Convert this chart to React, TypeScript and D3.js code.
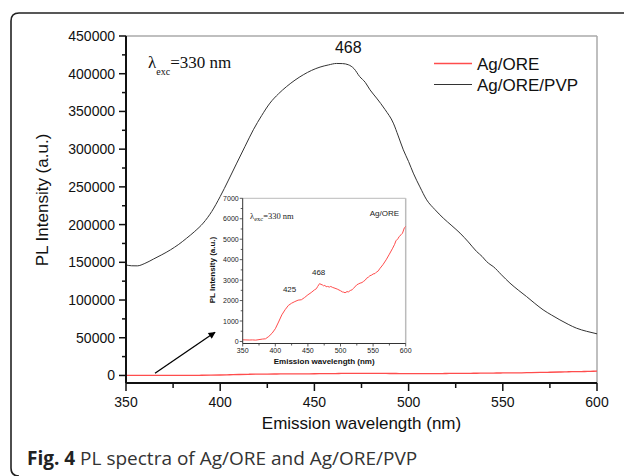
import React from "react";
import * as d3 from "d3";

// Ag/ORE/PVP (black) – wavelength (nm), intensity (a.u.)
const pvpWavelength = [350, 353, 356, 360, 364.5, 369, 373.6, 378, 382.2, 386.5, 391, 395.5, 400, 404.4, 408.8, 413.2, 417.6, 422, 426.4, 431, 435.3, 439.7, 444.1, 448.5, 453, 457.4, 461.8, 465, 468, 471, 474, 477, 479.5, 483, 487.5, 491.9, 494.5, 497.2, 500, 502.5, 506, 509.6, 514, 518.4, 523, 527.3, 531.7, 536.1, 539, 541.4, 543.2, 544.9, 549.3, 553.8, 558.2, 562.6, 567, 571.4, 575.8, 580.3, 584.7, 589.1, 594.5, 600];
const pvpIntensity = [146500, 145400, 145300, 148500, 154200, 160000, 166500, 173800, 182000, 191000, 202000, 217300, 237200, 259000, 281500, 303800, 325700, 344500, 361000, 373500, 383100, 391500, 398600, 404400, 408800, 411600, 413600, 413400, 411900, 406800, 396300, 388500, 378700, 367700, 352500, 334500, 317500, 299100, 283500, 268200, 250000, 232800, 219800, 208600, 198400, 188700, 177000, 164300, 157800, 151000, 147300, 144400, 133400, 122400, 113200, 104600, 95500, 87000, 80200, 73700, 67800, 62700, 58500, 55200];

// Ag/ORE (red) – wavelength (nm), intensity (a.u.)
const oreWavelength = [350, 355, 360, 365, 370, 375, 380, 385, 390, 395, 400, 405, 410, 415, 420, 425, 430, 435, 440, 445, 450, 455, 460, 463, 465, 468, 470, 472, 474, 476, 478, 480, 483, 485, 488, 490, 495, 500, 503, 505, 507, 510, 512, 515, 518, 520, 525, 528, 530, 533, 535, 538, 540, 543, 545, 548, 550, 553, 555, 558, 560, 565, 570, 575, 580, 583, 585, 588, 590, 593, 595, 598, 600];
const oreIntensity = [80, 75, 70, 75, 65, 90, 115, 130, 245, 400, 620, 950, 1300, 1550, 1760, 1870, 1950, 2020, 2040, 2150, 2280, 2390, 2520, 2580, 2690, 2830, 2790, 2770, 2720, 2740, 2680, 2690, 2660, 2690, 2640, 2620, 2560, 2480, 2420, 2410, 2380, 2440, 2420, 2490, 2530, 2600, 2770, 2820, 2850, 2880, 2930, 3000, 3090, 3150, 3210, 3250, 3300, 3320, 3390, 3450, 3550, 3750, 3990, 4270, 4560, 4750, 4920, 5020, 5130, 5220, 5290, 5560, 5620];

const xTicks = [350, 400, 450, 500, 550, 600];
const yTicks = [0, 50000, 100000, 150000, 200000, 250000, 300000, 350000, 400000, 450000];
const insetXTicks = [350, 400, 450, 500, 550, 600];
const insetYTicks = [0, 1000, 2000, 3000, 4000, 5000, 6000, 7000];
const legendLabels = ["Ag/ORE", "Ag/ORE/PVP"];
const peakLabels = [425, 468];

const SANS = "'Liberation Sans', Arial, sans-serif";
const SERIF = "'Liberation Serif', 'Times New Roman', serif";
const RED = "#ff4d4d";

export default function App() {
  const x = d3.scaleLinear().domain([350, 600]).range([126, 597]);
  const y = d3.scaleLinear().domain([-10000, 450000]).range([383, 36]);
  const ix = d3.scaleLinear().domain([350, 600]).range([242.7, 405.7]);
  const iy = d3.scaleLinear().domain([-100, 7000]).range([343.5, 198.3]);

  const pvpData = pvpWavelength.map((w, i) => [w, pvpIntensity[i]] as [number, number]);
  const oreData = oreWavelength.map((w, i) => [w, oreIntensity[i]] as [number, number]);

  const mainLine = d3.line<[number, number]>().x((d) => x(d[0])).y((d) => y(d[1])).curve(d3.curveMonotoneX);
  const insetLine = d3.line<[number, number]>().x((d) => ix(d[0])).y((d) => iy(d[1]));

  const xMinor = d3.range(375, 600, 50);
  const yMinor = d3.range(25000, 450000, 50000);
  const ixMinor = d3.range(375, 600, 50);
  const iyMinor = d3.range(500, 7000, 1000);

  const [x0, x1] = x.range();
  const yTop = 36;
  const yBot = 383;
  const ixL = ix.range()[0];
  const ixR = ix.range()[1];
  const iyT = 198.3;
  const iyB = 343.5;

  return (
    <svg width={624} height={476} style={{ position: "absolute", left: 0, top: 0, background: "#fff" }}>
      <defs>
        <marker id="arrowhead" viewBox="0 0 10 10" refX="9" refY="5" markerWidth="9" markerHeight="7" orient="auto" markerUnits="userSpaceOnUse">
          <path d="M0,0 L10,5 L0,10 z" fill="#000" />
        </marker>
      </defs>
      {/* outer rounded frame */}
      <path d="M624,13 L19,13 Q11,13 11,21 L11,468 Q11,476 19,476" fill="none" stroke="#222" strokeWidth={1.6} />

      {/* frame top & right */}
      <line x1={x0} x2={x1} y1={yTop} y2={yTop} stroke="#aaa" strokeWidth={1.5} />
      <line x1={x1} x2={x1} y1={yTop} y2={yBot} stroke="#aaa" strokeWidth={1.5} />

      {/* main curves */}
      <path d={mainLine(pvpData) || ""} fill="none" stroke="#333" strokeWidth={1} />
      <path d={mainLine(oreData) || ""} fill="none" stroke={RED} strokeWidth={1.3} />

      {/* axes */}
      <line x1={x0} x2={x1} y1={yBot} y2={yBot} stroke="#111" strokeWidth={2} />
      <line x1={x0} x2={x0} y1={yTop} y2={yBot} stroke="#111" strokeWidth={2} />
      {xTicks.map((t) => (
        <g key={"xt" + t}>
          <line x1={x(t)} x2={x(t)} y1={yBot} y2={yBot + 8} stroke="#111" strokeWidth={1.5} />
          <text x={x(t)} y={407} textAnchor="middle" fontFamily={SANS} fontSize={14} fill="#111">{t}</text>
        </g>
      ))}
      {xMinor.map((t) => (
        <line key={"xm" + t} x1={x(t)} x2={x(t)} y1={yBot} y2={yBot + 5} stroke="#111" strokeWidth={1.5} />
      ))}
      {yTicks.map((t) => (
        <g key={"yt" + t}>
          <line x1={x0 - 7} x2={x0} y1={y(t)} y2={y(t)} stroke="#111" strokeWidth={1.5} />
          <text x={115} y={y(t) + 5} textAnchor="end" fontFamily={SANS} fontSize={14} fill="#111">{t}</text>
        </g>
      ))}
      {yMinor.map((t) => (
        <line key={"ym" + t} x1={x0 - 4} x2={x0} y1={y(t)} y2={y(t)} stroke="#111" strokeWidth={1.5} />
      ))}
      <text x={(x0 + x1) / 2} y={429} textAnchor="middle" fontFamily={SANS} fontSize={17} fill="#111">Emission wavelength (nm)</text>
      <text transform="translate(48,200) rotate(-90)" textAnchor="middle" fontFamily={SANS} fontSize={17} fill="#111">PL Intensity (a.u.)</text>

      {/* annotations */}
      <text x={148} y={68} fontFamily={SERIF} fontSize={17} fill="#111">
        λ<tspan fontSize={10} dy={7}>exc</tspan><tspan dy={-7}>=330 nm</tspan>
      </text>
      <text x={x(peakLabels[1])} y={53} textAnchor="middle" fontFamily={SANS} fontSize={16} fill="#111">{peakLabels[1]}</text>

      {/* legend */}
      <line x1={434} x2={472} y1={63.5} y2={63.5} stroke={RED} strokeWidth={1.5} />
      <line x1={434} x2={472} y1={84.5} y2={84.5} stroke="#333" strokeWidth={1} />
      <text x={477} y={69.5} fontFamily={SANS} fontSize={17} fill="#111">{legendLabels[0]}</text>
      <text x={477} y={91} fontFamily={SANS} fontSize={17} fill="#111">{legendLabels[1]}</text>

      {/* arrow */}
      <line x1={155} y1={373.3} x2={215} y2={332.3} stroke="#000" strokeWidth={1.3} markerEnd="url(#arrowhead)" />

      {/* inset */}
      <rect x={ixL} y={iyT} width={ixR - ixL} height={iyB - iyT} fill="#fff" />
      <line x1={ixL} x2={ixR} y1={iyT} y2={iyT} stroke="#bbb" strokeWidth={1} />
      <line x1={ixR} x2={ixR} y1={iyT} y2={iyB} stroke="#bbb" strokeWidth={1.5} />
      <path d={insetLine(oreData) || ""} fill="none" stroke={RED} strokeWidth={1} />
      <line x1={ixL} x2={ixR} y1={iyB} y2={iyB} stroke="#333" strokeWidth={1} />
      <line x1={ixL} x2={ixL} y1={iyT} y2={iyB} stroke="#333" strokeWidth={1} />
      {insetXTicks.map((t) => (
        <g key={"ixt" + t}>
          <line x1={ix(t)} x2={ix(t)} y1={iyB} y2={iyB + 3} stroke="#333" strokeWidth={0.8} />
          <text x={ix(t)} y={353} textAnchor="middle" fontFamily={SANS} fontSize={7} fill="#222">{t}</text>
        </g>
      ))}
      {ixMinor.map((t) => (
        <line key={"ixm" + t} x1={ix(t)} x2={ix(t)} y1={iyB} y2={iyB + 2} stroke="#333" strokeWidth={0.8} />
      ))}
      {insetYTicks.map((t) => (
        <g key={"iyt" + t}>
          <line x1={ixL - 3} x2={ixL} y1={iy(t)} y2={iy(t)} stroke="#333" strokeWidth={0.8} />
          <text x={ixL - 4} y={iy(t) + 2.5} textAnchor="end" fontFamily={SANS} fontSize={7} fill="#222">{t}</text>
        </g>
      ))}
      {iyMinor.map((t) => (
        <line key={"iym" + t} x1={ixL - 2} x2={ixL} y1={iy(t)} y2={iy(t)} stroke="#333" strokeWidth={0.8} />
      ))}
      <text x={(ixL + ixR) / 2} y={364} textAnchor="middle" fontFamily={SANS} fontSize={8} fontWeight="bold" fill="#111">Emission wavelength (nm)</text>
      <text transform="translate(214.5,270) rotate(-90)" textAnchor="middle" fontFamily={SANS} fontSize={8} fontWeight="bold" fill="#111">PL Intensity (a.u.)</text>
      <text x={250} y={219} fontFamily={SERIF} fontSize={8.5} fill="#222">
        λ<tspan fontSize={6.5} dy={2}>exc</tspan><tspan dy={-2}>=330 nm</tspan>
      </text>
      <text x={399} y={216} textAnchor="end" fontFamily={SANS} fontSize={8} fill="#222">{legendLabels[0]}</text>
      <text x={ix(peakLabels[0]) - 2} y={292} textAnchor="middle" fontFamily={SANS} fontSize={8} fill="#222">{peakLabels[0]}</text>
      <text x={ix(peakLabels[1]) - 1} y={275} textAnchor="middle" fontFamily={SANS} fontSize={8} fill="#222">{peakLabels[1]}</text>

      {/* caption */}
      <text x={27} y={465} fontFamily="'Open Sans', sans-serif" fontSize={19} fill="#333">
        <tspan fontWeight="bold" fill="#222">Fig. 4</tspan> PL spectra of Ag/ORE and Ag/ORE/PVP
      </text>
    </svg>
  );
}
